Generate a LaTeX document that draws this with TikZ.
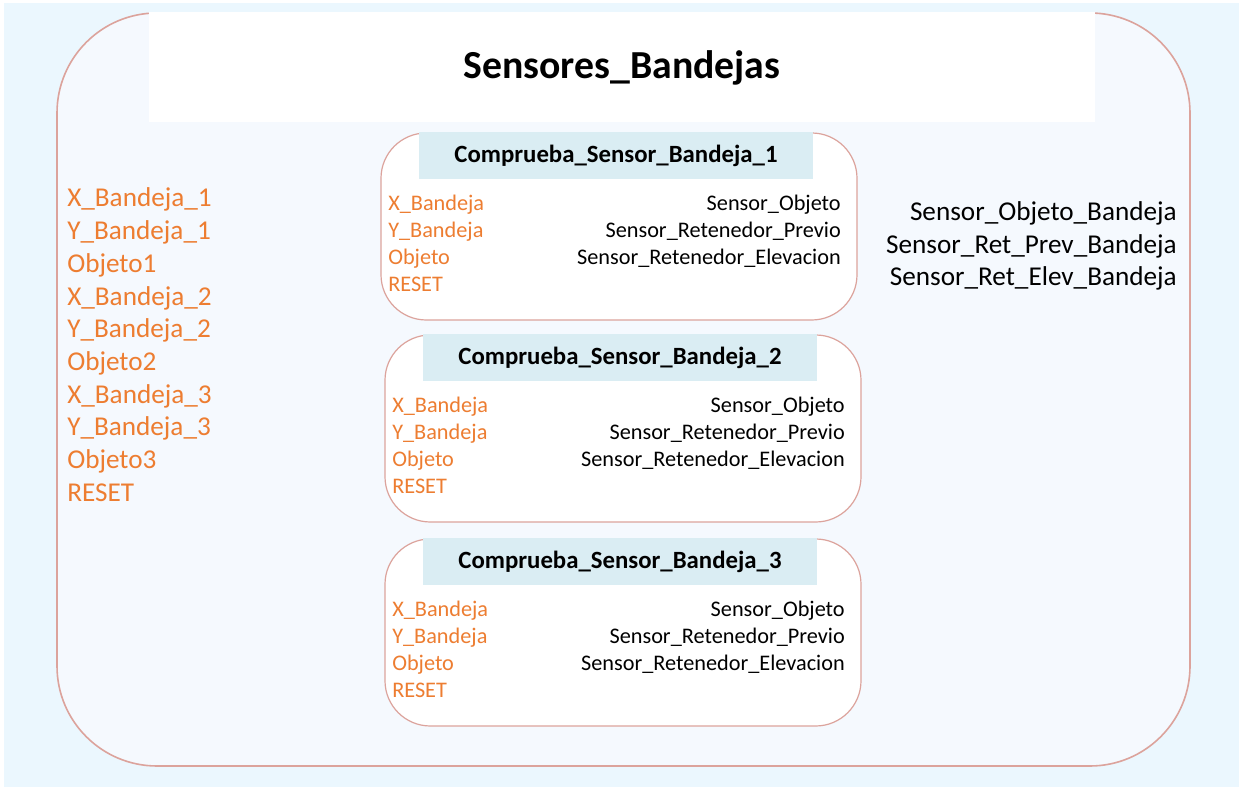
\documentclass[tikz,border=0pt]{standalone}
\usepackage{fontspec}
\setmainfont{Carlito}
\usetikzlibrary{positioning}
\definecolor{BgBlue}{HTML}{EBF7FE}
\definecolor{PanelBlue}{HTML}{F5F9FE}
\definecolor{Salmon}{HTML}{DCA39C}
\definecolor{HeadBlue}{HTML}{DAEDF3}
\definecolor{Orange}{HTML}{ED7D31}

\begin{document}
\begin{tikzpicture}[x=0.75pt,y=-0.75pt,
  listin/.style={anchor=base west,inner sep=0pt,text=Orange,font=\fontsize{20.4}{22}\selectfont},
  listout/.style={anchor=base east,inner sep=0pt,font=\fontsize{20.4}{22}\selectfont},
  inport/.style={anchor=base west,inner sep=0pt,text=Orange,font=\fontsize{16.7}{18}\selectfont},
  outport/.style={anchor=base east,inner sep=0pt,font=\fontsize{16.7}{18}\selectfont},
  headtxt/.style={anchor=base,inner sep=0pt,font=\bfseries\fontsize{18.6}{20}\selectfont}]
\useasboundingbox (0,0) rectangle (1239,787);
\fill[BgBlue] (4,3) rectangle (1239,787);
\draw[Salmon,line width=1.2pt,fill=PanelBlue,rounded corners=75pt] (57,13) rectangle (1190,766);
\fill[white] (149,12) rectangle (1095,122);
\node[anchor=base,inner sep=0pt,font=\bfseries\fontsize{29.8}{32}\selectfont] (title) at (622,79) {Sensores\_Bandejas};

% entradas y salidas del bloque
\foreach \t [count=\i] in {X\_Bandeja\_1,Y\_Bandeja\_1,Objeto1,X\_Bandeja\_2,Y\_Bandeja\_2,Objeto2,X\_Bandeja\_3,Y\_Bandeja\_3,Objeto3,RESET}
  \node[listin] (in\i) at ({67},{207+32.7*(\i-1)}) {\t};
\foreach \t [count=\i] in {Sensor\_Objeto\_Bandeja,Sensor\_Ret\_Prev\_Bandeja,Sensor\_Ret\_Elev\_Bandeja}
  \node[listout] (out\i) at ({1177},{221+32.5*(\i-1)}) {\t};

% subbloques
\foreach \bx/\by/\n in {381/133/1,385/335/2,385/539/3}{
  \draw[Salmon,line width=0.9pt,fill=white,rounded corners=34pt] (\bx,\by) rectangle ++(476,187);
  \fill[HeadBlue] ({\bx+38},{\by-1}) rectangle ++(394,47);
  \node[headtxt] (head\n) at ({\bx+235},{\by+30}) {Comprueba\_Sensor\_Bandeja\_\n};
  \foreach \l [count=\k] in {X\_Bandeja,Y\_Bandeja,Objeto,RESET}
    \node[inport] (in\n-\k) at ({\bx+7},{\by+78+26.7*(\k-1)}) {\l};
  \foreach \l [count=\k] in {Sensor\_Objeto,Sensor\_Retenedor\_Previo,Sensor\_Retenedor\_Elevacion}
    \node[outport] (out\n-\k) at ({\bx+460},{\by+78+26.7*(\k-1)}) {\l};
}
\end{tikzpicture}
\end{document}
